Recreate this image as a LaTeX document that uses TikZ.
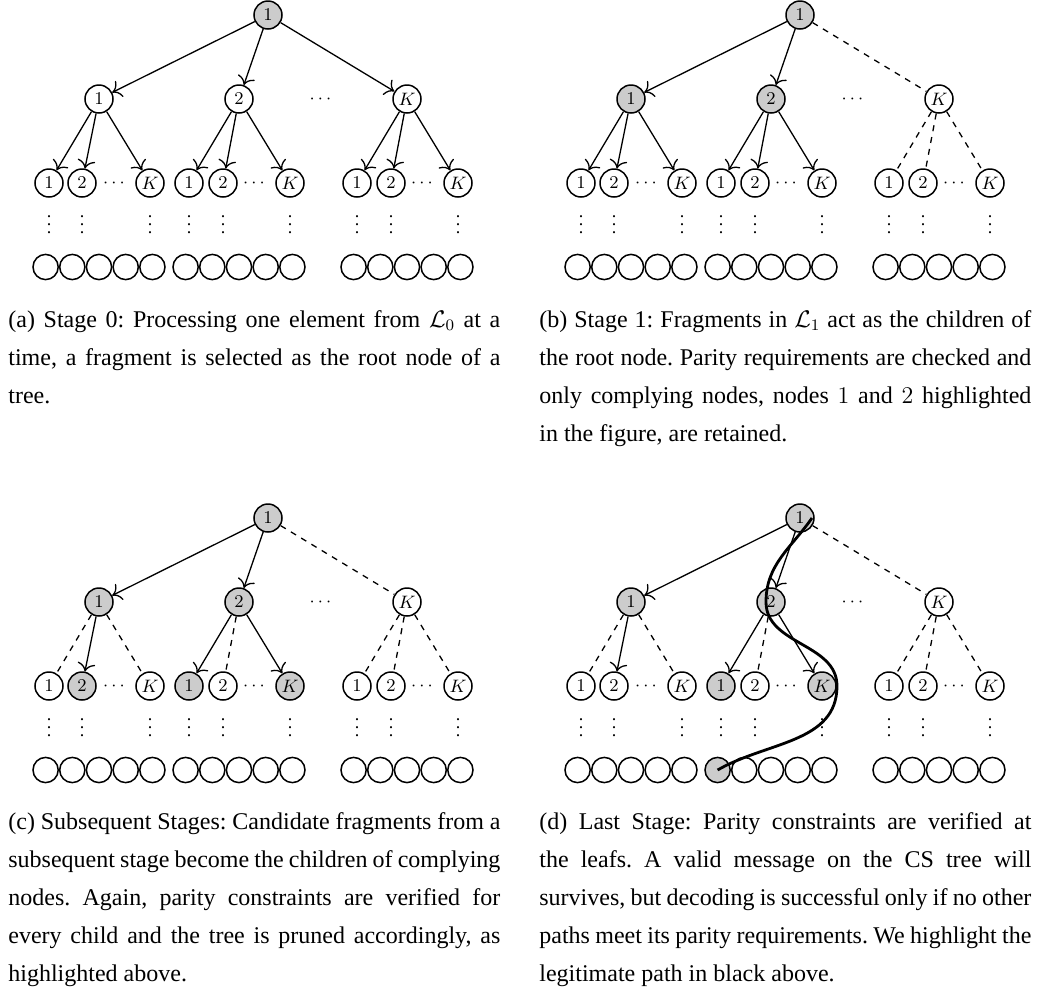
\documentclass[tikz,border=0pt]{standalone}
\usepackage[no-math]{fontspec}
\setmainfont{Liberation Serif}
\usepackage{amsmath}
\usetikzlibrary{positioning}
\usetikzlibrary{arrows.meta}
\setlength{\parindent}{0pt}
\hyphenpenalty=10000
\frenchspacing

\definecolor{hl}{gray}{0.8}
\tikzset{
  tn/.style={draw, circle, line width=0.75pt, minimum size=14pt, inner sep=0pt},
  leaf/.style={draw, circle, line width=0.75pt, minimum size=12.6pt, inner sep=0pt},
  arr/.style={-{To[scale=1.4]}, line width=0.65pt},
  dsh/.style={dashed, line width=0.65pt},
  captext/.style={anchor=base west, inner sep=0pt, text width=246pt, align=justify,
    font=\fontsize{12}{19}\selectfont}
}

% one CS tree: #1 name, #2 shift,
% #3 level 1 as child/x/fill/edge/shaded leaf, #4 level 2 as parent/child/x/fill/edge
\newcommand{\cstree}[4]{%
  \begin{scope}[shift={#2}]
    % root
    \node[tn, fill=hl] (#1-r) at (268,-15) {$1$};
    \node[inner sep=0pt] (#1-dots) at (322,-99) {$\cdots$};
    % level 1 and the leaves below each node
    \foreach \pa/\xx/\fl/\ed/\lf in {#3} {
      \node[tn, fill=\fl] (#1-\pa) at (\xx,-99) {$\pa$};
      \draw[\ed] (#1-r) -- (#1-\pa);
      \node[inner sep=0pt] (#1-\pa-dots) at (\xx+16.5,-183) {$\cdots$};
      \foreach \i in {0,...,4} {
        \ifnum\i=\lf \def\lc{hl}\else\def\lc{white}\fi
        \node[leaf, fill=\lc] (#1-\pa-l\i) at (\xx-53.4+26.7*\i,-267) {};
      }
    }
    % level 2
    \foreach \pa/\ch/\xx/\fl/\ed in {#4} {
      \node[tn, fill=\fl] (#1-\pa-\ch) at (\xx,-183) {$\ch$};
      \draw[\ed] (#1-\pa) -- (#1-\pa-\ch);
      \node[inner sep=0pt] (#1-\pa-\ch-v) at (\xx,-219) {$\vdots$};
    }
  \end{scope}}

\begin{document}
\begin{tikzpicture}[x=0.5pt, y=0.5pt, font=\fontsize{9}{11}\selectfont]
  \useasboundingbox (0,0) rectangle (1050,-997);

  % (a) stage 0
  \cstree{a}{(0,0)}{1/99/white/arr/-1, 2/239/white/arr/-1, K/407/white/arr/-1}
    {1/1/49/white/arr, 1/2/82/white/arr, 1/K/150/white/arr,
     2/1/189/white/arr, 2/2/223/white/arr, 2/K/290/white/arr,
     K/1/357/white/arr, K/2/391/white/arr, K/K/458/white/arr}
  \node[captext] (cap-a) at (8,-327) {(a) Stage 0: Processing one element from $\mathcal{L}_0$ at a\linebreak time, a fragment is selected as the root node of a\linebreak tree.};

  % (b) stage 1
  \cstree{b}{(532,0)}{1/99/hl/arr/-1, 2/239/hl/arr/-1, K/407/white/dsh/-1}
    {1/1/49/white/arr, 1/2/82/white/arr, 1/K/150/white/arr,
     2/1/189/white/arr, 2/2/223/white/arr, 2/K/290/white/arr,
     K/1/357/white/dsh, K/2/391/white/dsh, K/K/458/white/dsh}
  \node[captext] (cap-b) at (539,-327) {(b) Stage 1: Fragments in $\mathcal{L}_1$ act as the children of\linebreak the root node. Parity requirements are checked and\linebreak only complying nodes, nodes $1$ and $2$ highlighted\linebreak in the figure, are retained.};

  % (c) subsequent stages
  \cstree{c}{(0,-503)}{1/99/hl/arr/-1, 2/239/hl/arr/-1, K/407/white/dsh/-1}
    {1/1/49/white/dsh, 1/2/82/hl/arr, 1/K/150/white/dsh,
     2/1/189/hl/arr, 2/2/223/white/dsh, 2/K/290/hl/arr,
     K/1/357/white/dsh, K/2/391/white/dsh, K/K/458/white/dsh}
  \node[captext] (cap-c) at (8,-829) {(c) Subsequent Stages: Candidate fragments from a\linebreak subsequent stage become the children of complying\linebreak nodes. Again, parity constraints are verified for\linebreak every child and the tree is pruned accordingly, as\linebreak highlighted above.};

  % (d) last stage
  \cstree{d}{(532,-503)}{1/99/hl/arr/-1, 2/239/hl/arr/0, K/407/white/dsh/-1}
    {1/1/49/white/dsh, 1/2/82/white/arr, 1/K/150/white/dsh,
     2/1/189/hl/arr, 2/2/223/white/dsh, 2/K/290/hl/arr,
     K/1/357/white/dsh, K/2/391/white/dsh, K/K/458/white/dsh}
  % legitimate path
  \draw[line width=1.4pt] ([xshift=6pt]d-r.center) to[out=235,in=90] ([xshift=-2.5pt]d-2.center)
    to[out=270,in=90] ([xshift=7.5pt]d-2-K.center) to[out=270,in=30] (d-2-l0.center);
  \node[captext] (cap-d) at (539,-829) {(d) Last Stage: Parity constraints are verified at\linebreak the leafs. A valid message on the CS tree will\linebreak survives, but decoding is successful only if no other\linebreak paths meet its parity requirements. We highlight the\linebreak legitimate path in black above.};
\end{tikzpicture}
\end{document}
